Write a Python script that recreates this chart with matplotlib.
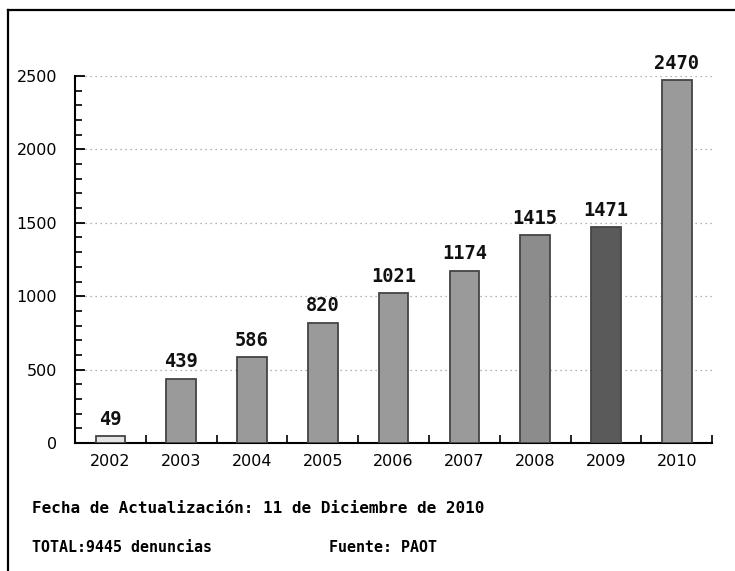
import matplotlib
matplotlib.use("Agg")
import matplotlib.pyplot as plt
from matplotlib.lines import Line2D
from matplotlib.ticker import MultipleLocator

# denuncias por año
anios = ["2002", "2003", "2004", "2005", "2006", "2007", "2008", "2009", "2010"]
denuncias = [49, 439, 586, 820, 1021, 1174, 1415, 1471, 2470]
colores = ["#e4e4e4", "#9a9a9a", "#9a9a9a", "#9a9a9a", "#9a9a9a",
           "#9a9a9a", "#8c8c8c", "#5a5a5a", "#9a9a9a"]
fecha = "Fecha de Actualización: 11 de Diciembre de 2010"
total = "TOTAL:9445 denuncias"
fuente = "Fuente: PAOT"

fig = plt.figure(figsize=(7.35, 5.71), dpi=100, facecolor="white")
ax = fig.add_axes([0.102, 0.224, 0.867, 0.643])

x = list(range(len(anios)))
ax.bar(x, denuncias, width=0.42, color=colores, edgecolor="#444444", linewidth=1.3, zorder=3)
for xi, v in zip(x, denuncias):
    ax.text(xi, v + 50, str(v), ha="center", va="bottom", fontsize=13.5,
            fontweight="bold", family="DejaVu Sans Mono", color="#111111")

ax.set_xlim(-0.5, len(anios) - 0.5)
ax.set_ylim(0, 2500)
ax.yaxis.set_major_locator(MultipleLocator(500))
ax.yaxis.set_minor_locator(MultipleLocator(100))
ax.set_xticks(x)
ax.set_xticklabels(anios)
ax.set_xticks([i + 0.5 for i in x], minor=True)

for s in ["top", "right"]:
    ax.spines[s].set_visible(False)
ax.spines["left"].set_linewidth(1.5)
ax.spines["bottom"].set_linewidth(1.5)

ax.tick_params(axis="y", which="major", direction="in", length=7, width=1.3, pad=13, labelsize=11.5)
ax.tick_params(axis="y", which="minor", direction="in", length=5, width=1.2)
ax.tick_params(axis="x", which="major", length=0, pad=8, labelsize=11.5)
ax.tick_params(axis="x", which="minor", direction="in", length=6, width=1.2)

ax.grid(axis="y", which="major", linestyle=(0, (1, 3)), color="#999999", linewidth=0.9, zorder=0)

fig.text(0.044, 0.109, fecha, fontsize=11.5, fontweight="bold",
         family="DejaVu Sans Mono", va="center")
fig.text(0.044, 0.042, total, fontsize=10.8, fontweight="bold",
         family="DejaVu Sans Mono", va="center")
fig.text(0.447, 0.042, fuente, fontsize=10.8, fontweight="bold",
         family="DejaVu Sans Mono", va="center")

# marco superior e izquierdo
fig.add_artist(Line2D([0.011, 1.0], [0.982, 0.982], color="black", linewidth=1.6))
fig.add_artist(Line2D([0.011, 0.011], [0.0, 0.982], color="black", linewidth=1.6))

fig.savefig("out.png", dpi=100, facecolor="white")
